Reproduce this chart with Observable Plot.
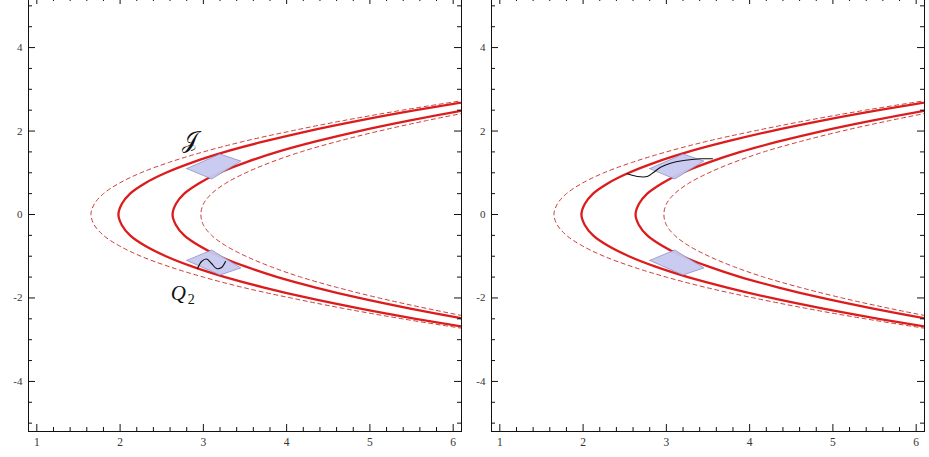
<!DOCTYPE html>
<html><head><meta charset="utf-8">
<script src="https://cdn.jsdelivr.net/npm/d3@7"></script>
<script src="https://cdn.jsdelivr.net/npm/@observablehq/plot@0.6"></script>
<style>
body{margin:0;background:#fff;width:929px;height:457px;overflow:hidden;position:relative}
.panel{position:absolute;top:-3px}
</style></head><body>
<div id="p1" class="panel" style="left:0px"></div>
<div id="p2" class="panel" style="left:463px"></div>
<script>
// axes
const xDomain = [0.9, 6.1];
const yDomain = [-5.2, 5.2];
const xTickLabels = [1, 2, 3, 4, 5, 6];
const yTickLabels = [-4, -2, 0, 2, 4];
const xMinorTicks = [1.2,1.4,1.6,1.8,2.2,2.4,2.6,2.8,3.2,3.4,3.6,3.8,4.2,4.4,4.6,4.8,5.2,5.4,5.6,5.8];
const yMinorTicks = [-5,-4.5,-3.5,-3,-2.5,-1.5,-1,-0.5,0.5,1,1.5,2.5,3,3.5,4.5,5];

// upper branch of each curve (x read at these y levels); lower branch is its mirror
const branchY        = [0, 0.25, 0.5, 0.75, 1, 1.25, 1.5, 1.75, 2, 2.25, 2.5, 2.75, 3.0];
const solidOuterX    = [1.98, 2.02, 2.12, 2.30, 2.55, 2.87, 3.26, 3.73, 4.26, 4.87, 5.55, 6.30, 7.1];
const solidInnerX    = [2.63, 2.67, 2.77, 2.95, 3.19, 3.51, 3.89, 4.35, 4.87, 5.47, 6.14, 6.9, 7.7];
const dashedOuterX   = [1.65, 1.69, 1.80, 1.99, 2.25, 2.59, 3.00, 3.48, 4.05, 4.68, 5.39, 6.18, 7.0];
const dashedInnerX   = [2.97, 3.00, 3.10, 3.27, 3.51, 3.81, 4.17, 4.61, 5.11, 5.68, 6.31, 7.0, 7.8];

// shaded regions (corners)
const upperPatchX = [2.80, 3.20, 3.45, 3.10];
const upperPatchY = [1.10, 1.45, 1.28, 0.85];
const lowerPatchX = [2.80, 3.10, 3.45, 3.20];
const lowerPatchY = [-1.10, -0.85, -1.28, -1.45];

// black paths
const squiggleX = [2.930, 2.978, 3.038, 3.098, 3.158, 3.218, 3.266];
const squiggleY = [-1.294, -1.126, -1.066, -1.174, -1.294, -1.270, -1.126];
const sCurveX = [2.530, 2.650, 2.770, 2.849, 2.930, 3.050, 3.206, 3.410, 3.554];
const sCurveY = [0.975, 0.911, 0.911, 1.014, 1.133, 1.229, 1.294, 1.335, 1.335];

// labels
const labelJ = {text: "𝒥", x: 2.845, y: 1.773};
const labelQ = {text: "Q", x: 2.70, y: -1.893};
const labelQsub = {text: "2", x: 2.855, y: -2.03};

function branch(xs) {
  const pts = [];
  for (let i = branchY.length - 1; i >= 0; i--) pts.push({x: xs[i], y: -branchY[i]});
  for (let i = 1; i < branchY.length; i++) pts.push({x: xs[i], y: branchY[i]});
  return pts;
}
const zip = (xs, ys) => xs.map((x, i) => ({x, y: ys[i]}));
const closed = (xs, ys) => zip(xs, ys).concat([{x: xs[0], y: ys[0]}]);

const red = "#dc1c1c";
const dashRed = "#cc3c38";
const serif = "'Liberation Serif', 'Times New Roman', serif";

function panel(extra) {
  return Plot.plot({
    width: 465, height: 460,
    marginLeft: 28, marginRight: 4, marginTop: 0, marginBottom: 26,
    x: {domain: xDomain, axis: null},
    y: {domain: yDomain, axis: null},
    style: {background: "transparent", fontFamily: serif},
    marks: [
      Plot.line(branch(dashedOuterX), {x: "x", y: "y", stroke: dashRed, strokeWidth: 1, strokeDasharray: "4,3.5", curve: "catmull-rom", clip: true}),
      Plot.line(branch(dashedInnerX), {x: "x", y: "y", stroke: dashRed, strokeWidth: 1, strokeDasharray: "4,3.5", curve: "catmull-rom", clip: true}),
      Plot.line(branch(solidOuterX), {x: "x", y: "y", stroke: red, strokeWidth: 2.3, curve: "catmull-rom", clip: true}),
      Plot.line(branch(solidInnerX), {x: "x", y: "y", stroke: red, strokeWidth: 2.3, curve: "catmull-rom", clip: true}),
      Plot.line(closed(upperPatchX, upperPatchY), {x: "x", y: "y", fill: "#c6c8f0", fillOpacity: 0.95, stroke: "#8486b8", strokeWidth: 0.7}),
      Plot.line(closed(lowerPatchX, lowerPatchY), {x: "x", y: "y", fill: "#c6c8f0", fillOpacity: 0.95, stroke: "#8486b8", strokeWidth: 0.7}),
      ...extra,
      Plot.frame({stroke: "#111", strokeWidth: 1}),
      // inward ticks
      Plot.ruleX(xTickLabels, {x: d => d, y1: yDomain[0], y2: yDomain[0], insetBottom: 7, stroke: "#111"}),
      Plot.ruleX(xMinorTicks, {x: d => d, y1: yDomain[0], y2: yDomain[0], insetBottom: 4, stroke: "#111"}),
      Plot.ruleX(xTickLabels, {x: d => d, y1: yDomain[1], y2: yDomain[1], insetTop: 7, stroke: "#111"}),
      Plot.ruleX(xMinorTicks, {x: d => d, y1: yDomain[1], y2: yDomain[1], insetTop: 4, stroke: "#111"}),
      Plot.ruleY(yTickLabels, {y: d => d, x1: xDomain[0], x2: xDomain[0], insetLeft: 7, stroke: "#111"}),
      Plot.ruleY(yMinorTicks, {y: d => d, x1: xDomain[0], x2: xDomain[0], insetLeft: 4, stroke: "#111"}),
      Plot.ruleY(yTickLabels, {y: d => d, x1: xDomain[1], x2: xDomain[1], insetRight: 7, stroke: "#111"}),
      Plot.ruleY(yMinorTicks, {y: d => d, x1: xDomain[1], x2: xDomain[1], insetRight: 4, stroke: "#111"}),
      // tick labels
      Plot.text(xTickLabels, {x: d => d, frameAnchor: "bottom", dy: 14, text: d => String(d), fontSize: 11.5, fontFamily: serif, fill: "#333"}),
      Plot.text(yTickLabels, {y: d => d, frameAnchor: "left", dx: -6, textAnchor: "end", text: d => String(d), fontSize: 11, fontFamily: serif, fill: "#333"})
    ]
  });
}

const leftExtra = [
  Plot.line(zip(squiggleX, squiggleY), {x: "x", y: "y", stroke: "#111", strokeWidth: 1.1, curve: "catmull-rom"}),
  Plot.text([labelJ], {x: "x", y: "y", text: "text", fontSize: 23, fontFamily: serif, fill: "#111"}),
  Plot.text([labelQ], {x: "x", y: "y", text: "text", fontSize: 21, fontStyle: "italic", fontFamily: serif, fill: "#111"}),
  Plot.text([labelQsub], {x: "x", y: "y", text: "text", fontSize: 14, fontFamily: serif, fill: "#111"})
];
const rightExtra = [
  Plot.line(zip(sCurveX, sCurveY), {x: "x", y: "y", stroke: "#111", strokeWidth: 1.1, curve: "catmull-rom"})
];

document.getElementById("p1").appendChild(panel(leftExtra));
document.getElementById("p2").appendChild(panel(rightExtra));
</script>
</body></html>
